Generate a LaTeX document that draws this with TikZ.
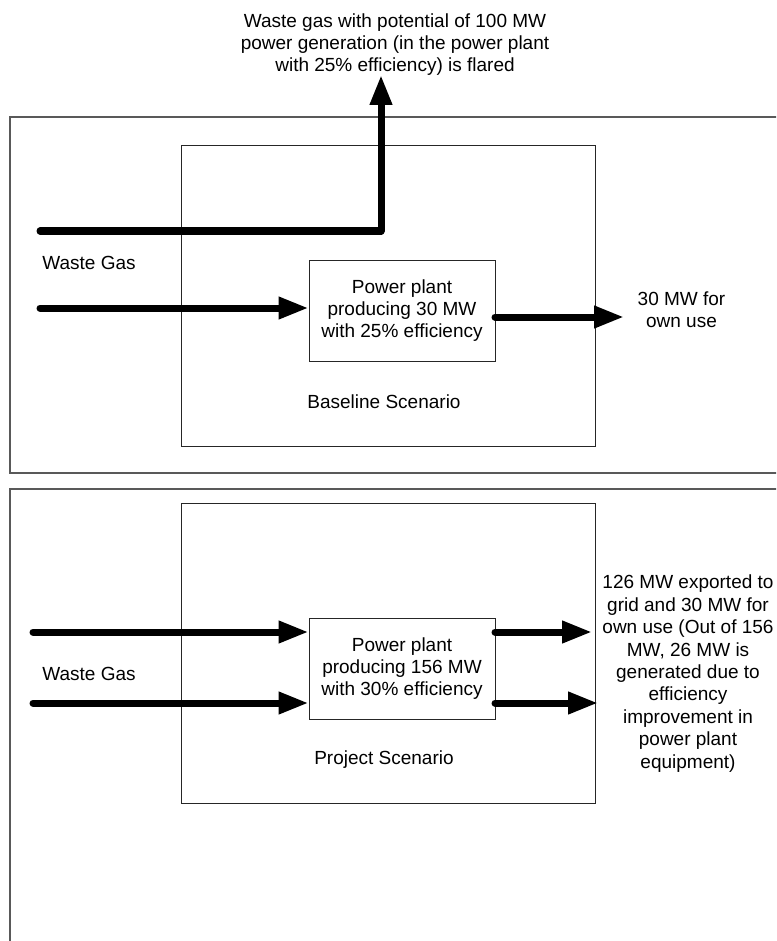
\documentclass[tikz,border=0pt]{standalone}
\usepackage{fontspec}
\setmainfont{Liberation Sans}
\usetikzlibrary{arrows.meta,positioning}
\tikzset{flow/.style={line width=3.5pt, line cap=round, line join=round,
  -{Triangle[length=15pt,width=10.5pt]}}, % thick arrows for gas and power
frame/.style={draw=black!65, line width=0.8pt}, % the two outer frames
scenario/.style={draw=black!85, line width=0.5pt, minimum width=207pt, minimum height=150pt}, % scenario boundary
plant/.style={draw=black!85, line width=0.5pt, minimum width=93pt, minimum height=50.5pt, align=center}, % power plant box
txt/.style={align=center}, % free text
every node/.style={font=\fontsize{9.5}{11.2}\selectfont, inner sep=0pt},
}

\begin{document}
\begin{tikzpicture}[x=0.5pt, y=-0.5pt]
\clip (0,0) rectangle (776,941);
% frames
\draw[frame] (10,117) rectangle (800,473);
\draw[frame] (10,489) rectangle (800,960);

% baseline scenario
\node[scenario] (base) at (388.5,296) {};
\node[plant] (plant1) at (402,310.5) {Power plant\\producing 30 MW\\with 25\% efficiency};
\node[txt] (basetxt) at (384,402) {Baseline Scenario};
\node[txt, anchor=west] (gas1) at (42,263) {Waste Gas};
\node[txt] (flare) at (395,44.5) {Waste gas with potential of 100 MW\\power generation (in the power plant\\with 25\% efficiency) is flared};
\node[txt] (own) at (681.5,309.5) {30 MW for\\own use};
\coordinate (a1) at (40,231);
\coordinate (bend) at (381,231);
\coordinate (flaretip) at (381,75);
\coordinate (a2) at (40,308);
\coordinate (b1) at (495,317);
\coordinate (owntip) at (624,317);
\draw[flow] (a1) -- (bend) -- (flaretip);
\draw[flow] (a2) -- (a2 -| plant1.west);
\draw[flow] (b1) -- (owntip);

% project scenario
\node[scenario] (proj) at (388.5,653) {};
\node[plant] (plant2) at (402,668.5) {Power plant\\producing 156 MW\\with 30\% efficiency};
\node[txt] (projtxt) at (384,760) {Project Scenario};
\node[txt, anchor=west] (gas2) at (42,674) {Waste Gas};
\node[txt] (grid) at (688,673.5) {126 MW exported to\\grid and 30 MW for\\own use (Out of 156\\MW, 26 MW is\\generated due to\\efficiency\\improvement in\\power plant\\equipment)};
\coordinate (c1) at (33,632);
\coordinate (c2) at (33,703);
\coordinate (d1) at (495,632);
\coordinate (d2) at (495,703);
\coordinate (gridtip1) at (592,632);
\coordinate (gridtip2) at (598,703);
\draw[flow] (c1) -- (c1 -| plant2.west);
\draw[flow] (c2) -- (c2 -| plant2.west);
\draw[flow] (d1) -- (gridtip1);
\draw[flow] (d2) -- (gridtip2);
\end{tikzpicture}
\end{document}
